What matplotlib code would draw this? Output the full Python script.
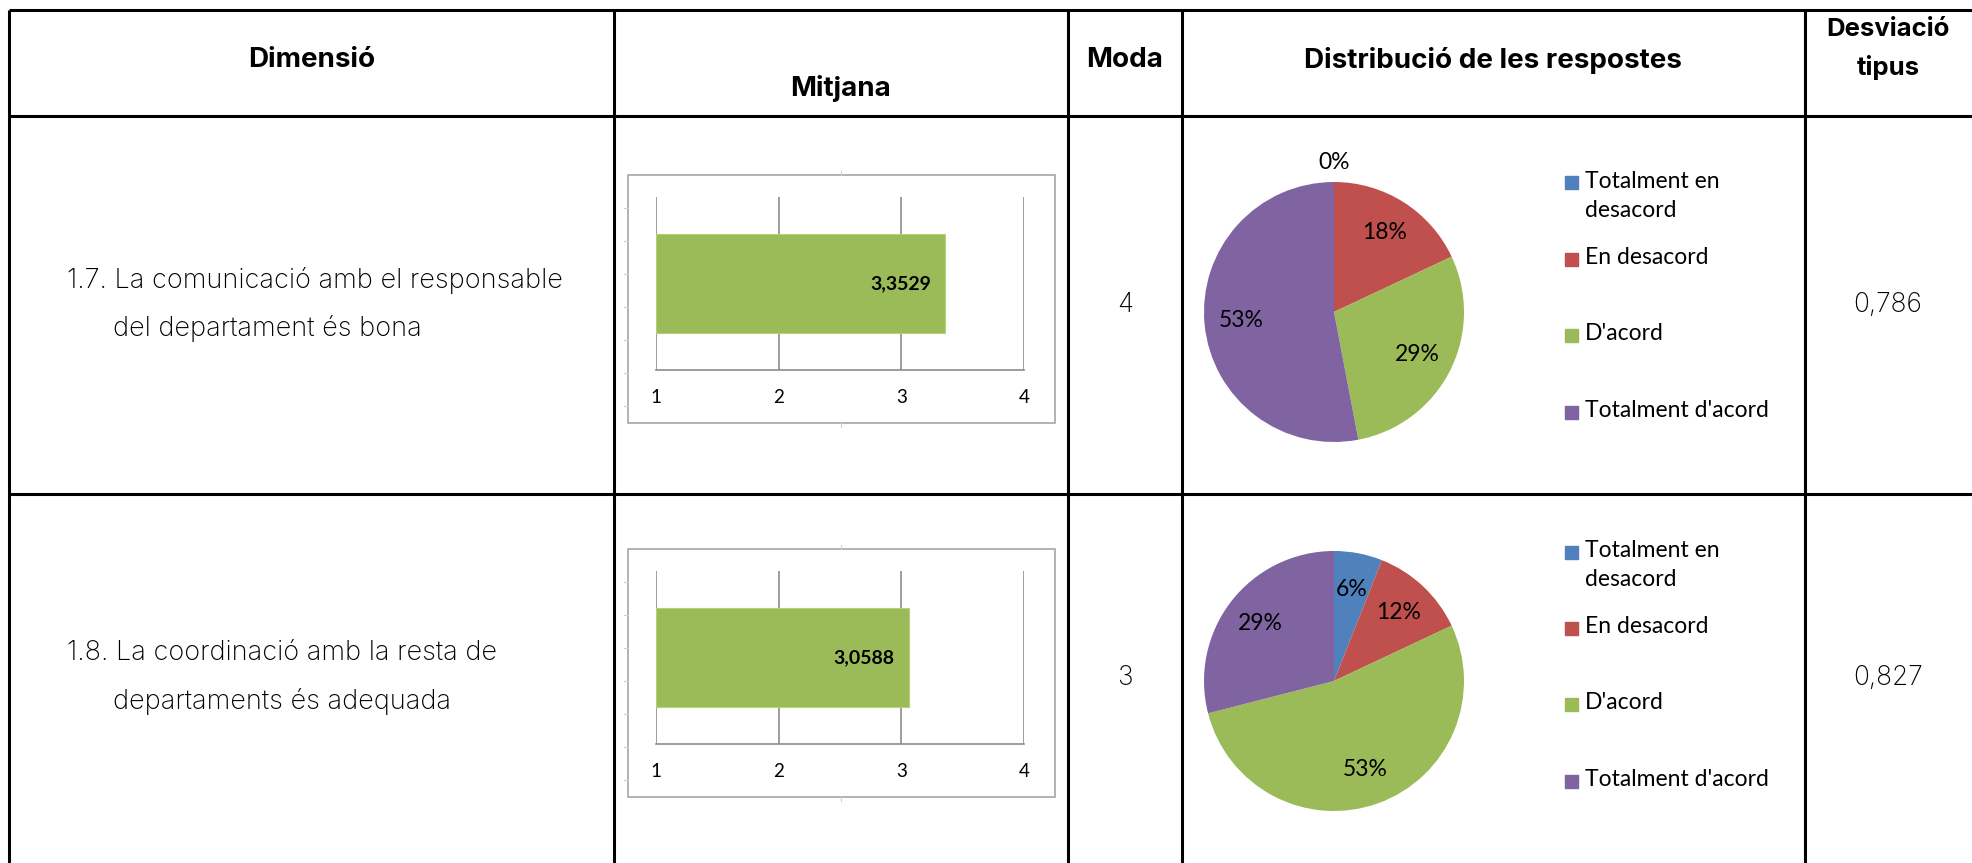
import numpy as np
import matplotlib
matplotlib.use("Agg")
import matplotlib.pyplot as plt
from matplotlib.patches import Rectangle

# data
headers = ["Dimensió", "Mitjana", "Moda", "Distribució de les respostes", "Desviació\ntipus"]
dim_first = ["1.7. La comunicació amb el responsable", "1.8. La coordinació amb la resta de"]
dim_second = ["del departament és bona", "departaments és adequada"]
means = [3.3529, 3.0588]
modes = [4, 3]
std_devs = [0.786, 0.827]
response_labels = ["Totalment en\ndesacord", "En desacord", "D'acord", "Totalment d'acord"]
response_pcts = [[0, 18, 29, 53], [6, 12, 53, 29]]
scale_ticks = [1, 2, 3, 4]

pie_colors = ["#4F81BD", "#C0504D", "#9BBB59", "#8064A2"]
bar_color = "#9BBB59"
grid_gray = "#8C8C8C"

W, H = 1972, 863
fig = plt.figure(figsize=(W / 100, H / 100), dpi=100)
tab = fig.add_axes([0, 0, 1, 1])
tab.set_xlim(0, W)
tab.set_ylim(H, 0)
tab.axis("off")


def ax_px(x0, y0, x1, y1):
    return fig.add_axes([x0 / W, 1 - y1 / H, (x1 - x0) / W, (y1 - y0) / H])


head_font = ["Inter", "DejaVu Sans"]
body_font = ["Inter", "DejaVu Sans"]
xl_font = ["Lato", "DejaVu Sans"]

# table grid
col_x = [9, 614, 1068, 1182, 1805]
row_y = [10, 116, 494]
lw = 2.2
for x in col_x:
    tab.plot([x, x], [row_y[0], H], color="black", lw=lw, solid_capstyle="butt")
for y in row_y:
    tab.plot([col_x[0], W], [y, y], color="black", lw=lw, solid_capstyle="butt")

# header
head_pos = [(312, 60), (841, 88), (1125, 60), (1493, 60), (1888, 49)]
head_size = [20, 20, 20, 20, 18.5]
for txt, (x, y), fs in zip(headers, head_pos, head_size):
    tab.text(x, y, txt, ha="center", va="center", fontsize=fs, fontweight="bold",
             family=head_font, linespacing=1.65)

# per-row layout anchors
text_y = [305, 678]
box_top = [175, 549]
pie_cy = [312, 681]

for i in range(len(means)):
    ty = text_y[i]
    tab.text(67, ty - 25, dim_first[i], ha="left", va="center", fontsize=19.5,
             family=body_font, fontweight="light")
    tab.text(113, ty + 23, dim_second[i], ha="left", va="center", fontsize=19.5,
             family=body_font, fontweight="light")
    tab.text(1125, ty, str(modes[i]), ha="center", va="center", fontsize=19,
             family=body_font, fontweight="light")
    tab.text(1888, ty, f"{std_devs[i]:.3f}".replace(".", ","), ha="center", va="center",
             fontsize=19, family=body_font, fontweight="light")

    # mean bar chart
    bt = box_top[i]
    tab.add_patch(Rectangle((628, bt), 427, 248, fill=False, edgecolor="#A6A6A6", lw=1.2))
    for k in range(7):
        tab.plot([624, 628], [bt + 33 + 33 * k, bt + 33 + 33 * k], color="#D0D0D0", lw=0.8)
    tab.plot([841, 841], [bt - 4, bt], color="#D0D0D0", lw=0.8)
    tab.plot([841, 841], [bt + 248, bt + 252], color="#D0D0D0", lw=0.8)

    ax = ax_px(656, bt + 22, 1024, bt + 195)
    ax.barh([0], [means[i] - scale_ticks[0]], left=scale_ticks[0], height=0.57,
            color=bar_color, edgecolor="#B5D17A", lw=0.8, zorder=3)
    ax.set_xlim(scale_ticks[0], scale_ticks[-1])
    ax.set_ylim(-0.5, 0.5)
    ax.set_xticks(scale_ticks)
    ax.set_xticklabels([str(t) for t in scale_ticks], family=xl_font, fontsize=13.5)
    ax.set_yticks([])
    ax.tick_params(axis="x", length=0, pad=14, colors="black")
    ax.grid(axis="x", color=grid_gray, lw=1.2, zorder=0)
    for s in ["top", "left", "right"]:
        ax.spines[s].set_visible(False)
    ax.spines["bottom"].set_color(grid_gray)
    ax.spines["bottom"].set_linewidth(1.2)
    ax.annotate(f"{means[i]:.4f}".replace(".", ","), (means[i], 0), xytext=(-10, 0),
                textcoords="offset points", ha="right", va="center", fontsize=14,
                fontweight="bold", family=xl_font, zorder=4)

    # response distribution pie
    cx, cy = 1334, pie_cy[i]
    r = 130
    pax = ax_px(cx - r, cy - r, cx + r, cy + r)
    vals = response_pcts[i]
    wedges, _ = pax.pie(vals, colors=pie_colors, startangle=90, counterclock=False,
                        radius=1, wedgeprops=dict(linewidth=0))
    pax.set_xlim(-1, 1)
    pax.set_ylim(-1, 1)
    pax.set_aspect("equal")
    total = float(sum(vals))
    start = 90.0
    for v in vals:
        ang = np.deg2rad(start - 360 * v / total / 2)
        d = 0.72 if v > 0 else 1.15
        pax.text(d * np.cos(ang), d * np.sin(ang), f"{v}%", ha="center", va="center",
                 fontsize=16.5, family=xl_font, clip_on=False)
        start -= 360 * v / total

    # legend
    leg_dy = [-129, -53, 23, 100]
    for lab, col, dy in zip(response_labels, pie_colors, leg_dy):
        tab.add_patch(Rectangle((cx + 231, cy + dy - 6.5), 13, 13, color=col))
        tab.text(cx + 251, cy + dy - 12, lab, ha="left", va="top", fontsize=16.5,
                 family=xl_font, linespacing=1.45)

fig.savefig("out.png", dpi=100)
